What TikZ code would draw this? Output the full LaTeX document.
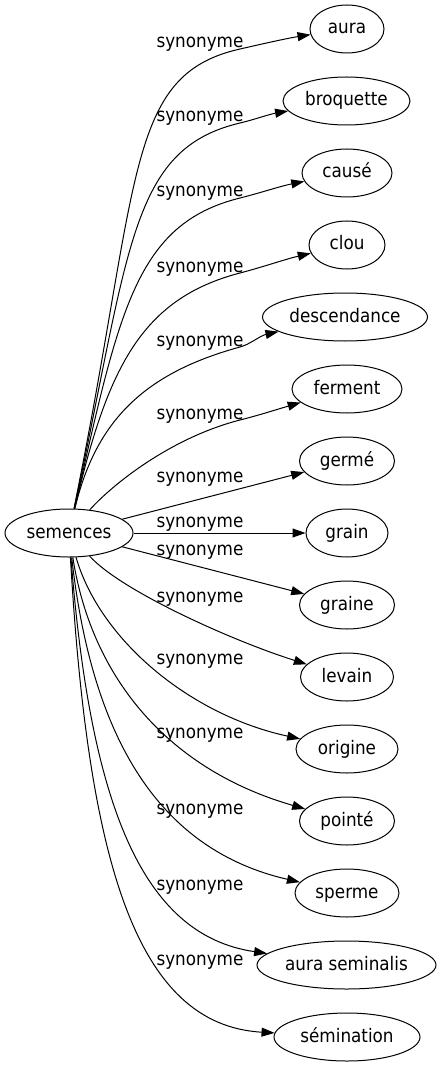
\documentclass[tikz,border=0pt]{standalone}
\usepackage{fontspec}
\setmainfont{DejaVu Sans Condensed}
\usetikzlibrary{arrows.meta,shapes.geometric}
\tikzset{
  ent/.style={ellipse, draw, line width=1pt, inner sep=0pt, minimum height=48pt,
    text height=14pt, text depth=4pt, font=\fontsize{18.67}{22}\selectfont},
  lbl/.style={inner sep=0pt, anchor=base, font=\fontsize{18.67}{22}\selectfont},
  syn/.style={draw, line width=1pt, -{Triangle[length=13pt,width=9pt]}},
}
\begin{document}
\begin{tikzpicture}[x=1pt,y=-1pt]
\useasboundingbox[fill=white] (0,0) rectangle (441,1067);
% nodes
\node[ent, minimum width=128pt] (sem) at (69,533) {semences};
\node[ent, minimum width=74pt]  (t0)  at (347,29)   {aura};
\node[ent, minimum width=127pt] (t1)  at (346.5,101) {broquette};
\node[ent, minimum width=90pt]  (t2)  at (347,173)  {causé};
\node[ent, minimum width=76pt]  (t3)  at (347,245)  {clou};
\node[ent, minimum width=165pt] (t4)  at (345,317)  {descendance};
\node[ent, minimum width=110pt] (t5)  at (347,389)  {ferment};
\node[ent, minimum width=95pt]  (t6)  at (347,461)  {germé};
\node[ent, minimum width=82pt]  (t7)  at (347,533)  {grain};
\node[ent, minimum width=95pt]  (t8)  at (347,605)  {graine};
\node[ent, minimum width=93pt]  (t9)  at (347,677)  {levain};
\node[ent, minimum width=102pt] (t10) at (347,749)  {origine};
\node[ent, minimum width=95pt]  (t11) at (347,821)  {pointé};
\node[ent, minimum width=104pt] (t12) at (347,893)  {sperme};
\node[ent, minimum width=179pt] (t13) at (346.5,965) {aura seminalis};
\node[ent, minimum width=146pt] (t14) at (347,1037) {sémination};
% labels
\node[lbl] (l0)  at (200,48)  {synonyme};
\node[lbl] (l1)  at (200,122) {synonyme};
\node[lbl] (l2)  at (200,197) {synonyme};
\node[lbl] (l3)  at (200,272) {synonyme};
\node[lbl] (l4)  at (200,346) {synonyme};
\node[lbl] (l5)  at (200,419) {synonyme};
\node[lbl] (l6)  at (200,482) {synonyme};
\node[lbl] (l7)  at (200,527) {synonyme};
\node[lbl] (l8)  at (200,555) {synonyme};
\node[lbl] (l9)  at (200,602) {synonyme};
\node[lbl] (l10) at (200,664) {synonyme};
\node[lbl] (l11) at (200,738) {synonyme};
\node[lbl] (l12) at (200,814) {synonyme};
\node[lbl] (l13) at (200,890) {synonyme};
\node[lbl] (l14) at (200,965) {synonyme};
% edges
\draw[syn] (sem) .. controls (141,178) and (125,75) .. (240,49) .. controls (263,43.8) and (287,38.3) .. (t0);
\draw[syn] (sem) .. controls (130,248) and (130,149) .. (240,123) .. controls (254.7,119.5) and (269,114.3) .. (t1);
\draw[syn] (sem) .. controls (119,312) and (135,224) .. (240,198) .. controls (260.7,192.8) and (281,186) .. (t2);
\draw[syn] (sem) .. controls (107,370) and (140,299) .. (240,273) .. controls (263,267) and (286,259) .. (t3);
\draw[syn] (sem) .. controls (96,420) and (145,373) .. (240,347) .. controls (250,344.4) and (260,335.7) .. (t4);
\draw[syn] (sem) .. controls (112,485) and (170,438) .. (240,420) .. controls (258,415.5) and (275,410) .. (t5);
\draw[syn] (sem) -- (t6);
\draw[syn] (sem) -- (t7);
\draw[syn] (sem) -- (t8);
\draw[syn] (sem) .. controls (120,590) and (230,640) .. (t9);
\draw[syn] (sem) .. controls (100,640) and (190,715) .. (t10);
\draw[syn] (sem) .. controls (92,680) and (170,770) .. (t11);
\draw[syn] (sem) .. controls (92,740) and (160,850) .. (t12);
\draw[syn] (sem) .. controls (90,800) and (140,935) .. (t13);
\draw[syn] (sem) .. controls (88,860) and (135,1025) .. (t14);
\end{tikzpicture}
\end{document}
